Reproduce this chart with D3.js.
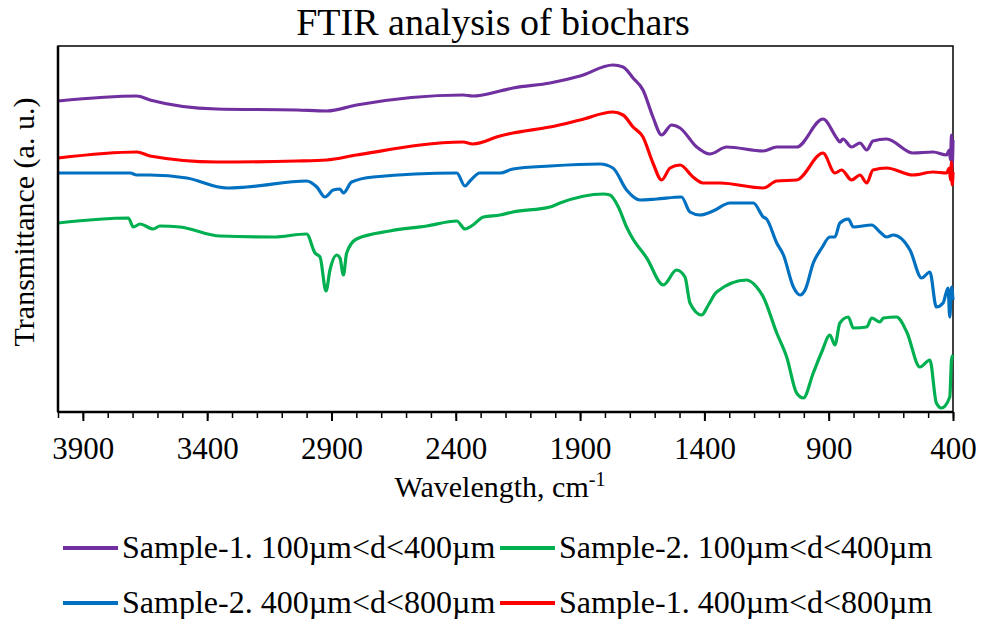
<!DOCTYPE html>
<html>
<head>
<meta charset="utf-8">
<script src="https://cdn.jsdelivr.net/npm/d3@7"></script>
<style>
  body { margin: 0; background: #fff; }
  text { font-family: "Liberation Serif", "Times New Roman", serif; fill: #000; }
</style>
</head>
<body>
<div id="chart"></div>
<script>
// tick labels on the wavenumber axis
var xTickLabels = [3900, 3400, 2900, 2400, 1900, 1400, 900, 400];

// series names (legend order: row by row)
var seriesNames = [
  "Sample-1. 100\u00b5m<d<400\u00b5m",
  "Sample-2. 100\u00b5m<d<400\u00b5m",
  "Sample-2. 400\u00b5m<d<800\u00b5m",
  "Sample-1. 400\u00b5m<d<800\u00b5m"
];
var seriesColors = ["#7030A0", "#00B050", "#0070C0", "#FF0000"];

// [wavenumber cm-1, transmittance a.u.]
var s1Small = [
  [4000,311],[3683,316],[3630,312],[3362,303],[3040,302],[2919,301],[2799,307],[2371,317],
  [2331,316],[2222,321],[2170,324],[2021,329],[1900,336],[1768,347],[1727,345],[1687,334],
  [1647,322],[1607,295],[1572,277],[1532,287],[1498,284],[1431,265],[1378,258],[1310,265],
  [1163,261],[1109,265],[1029,265],[923,293],[868,274],[855,270],[843,273],[808,265],
  [774,269],[747,262],[722,271],[667,273],[561,259],[480,260],[426,257],[415,262],
  [410,252],[406,277],[403,247],[400,272]
];
var s2Small = [
  [4000,189],[3717,194],[3697,185],[3670,188],[3617,183],[3590,186],[3509,185],[3348,176],
  [3134,175],[3000,178],[2966,159],[2946,155],[2922,121],[2906,142],[2879,157],[2866,154],
  [2852,137],[2839,159],[2799,173],[2665,181],[2517,186],[2396,191],[2363,183],[2331,187],
  [2289,195],[2222,197],[2170,200],[2021,205],[1981,209],[1807,218],[1780,217],[1746,205],
  [1713,185],[1692,175],[1632,154],[1565,127],[1512,142],[1478,135],[1458,109],[1411,97],
  [1384,107],[1351,120],[1230,132],[1190,125],[1163,115],[1109,79],[1069,55],[1029,19],
  [1002,14],[962,39],[928,60],[895,77],[875,67],[855,89],[821,95],[801,84],[747,85],
  [727,94],[694,90],[680,94],[627,95],[586,80],[533,45],[493,52],[467,9],[446,4],
  [413,15],[406,52],[400,57]
];
var s2Large = [
  [4000,239],[3710,239],[3683,237],[3630,237],[3482,234],[3321,224],[3241,225],[3000,231],
  [2959,225],[2926,215],[2893,222],[2866,223],[2852,219],[2819,230],[2732,235],[2396,239],
  [2363,226],[2343,231],[2303,239],[2222,239],[2170,243],[2021,246],[1820,248],[1768,244],
  [1713,222],[1659,212],[1592,213],[1492,215],[1458,200],[1418,197],[1365,201],[1297,209],
  [1203,209],[1163,195],[1150,193],[1109,169],[1082,157],[1042,125],[1015,117],[995,122],
  [962,149],[928,164],[895,175],[875,175],[855,189],[821,193],[801,185],[727,187],
  [694,180],[667,175],[640,177],[573,162],[526,134],[493,140],[467,105],[440,109],
  [420,124],[413,95],[406,125],[400,112]
];
var s1Large = [
  [4000,254],[3683,260],[3630,256],[3362,250],[3040,251],[2919,252],[2799,257],[2371,270],
  [2331,268],[2222,276],[2170,279],[2021,285],[1900,292],[1768,300],[1727,297],[1687,285],
  [1647,275],[1607,249],[1572,232],[1538,244],[1498,247],[1446,235],[1406,229],[1337,229],
  [1163,224],[1109,231],[1029,232],[923,259],[875,239],[848,242],[808,232],[774,237],
  [747,229],[722,242],[667,244],[561,237],[480,240],[426,239],[415,244],[410,232],
  [406,250],[403,227],[400,240]
];
var seriesData = [s1Small, s2Small, s2Large, s1Large];

var width = 982, height = 619;
var margin = {top: 46, right: 29, bottom: 207, left: 58};
var innerW = width - margin.left - margin.right;
var innerH = height - margin.top - margin.bottom;

var svg = d3.select("#chart").append("svg")
  .attr("width", width)
  .attr("height", height);

var g = svg.append("g")
  .attr("transform", "translate(" + margin.left + "," + margin.top + ")");

var x = d3.scaleLinear().domain([4000, 400]).range([0, innerW]);
var y = d3.scaleLinear().domain([0, 366]).range([innerH, 0]);

// plot frame
g.append("rect")
  .attr("width", innerW).attr("height", innerH)
  .attr("fill", "none").attr("stroke", "#000").attr("stroke-width", 1.5);

// lines
var line = d3.line()
  .x(d => x(d[0]))
  .y(d => y(d[1]))
  .curve(d3.curveMonotoneX);

g.selectAll(".series")
  .data(seriesData)
  .join("path")
  .attr("class", "series")
  .attr("fill", "none")
  .attr("stroke", (d, i) => seriesColors[i])
  .attr("stroke-width", 3.2)
  .attr("stroke-linejoin", "round")
  .attr("d", line);

// minor ticks every 100
var xMinor = d3.axisBottom(x)
  .tickValues(d3.range(4000, 399, -100))
  .tickSize(6).tickFormat("");
g.append("g")
  .attr("transform", "translate(0," + innerH + ")")
  .call(xMinor)
  .call(a => a.select(".domain").remove())
  .selectAll("line").attr("stroke", "#000").attr("stroke-width", 1.5);

// major ticks with labels
var xAxis = d3.axisBottom(x)
  .tickValues(xTickLabels)
  .tickSize(9).tickPadding(16)
  .tickFormat(d3.format("d"));
var xg = g.append("g")
  .attr("transform", "translate(0," + innerH + ")")
  .call(xAxis);
xg.select(".domain").remove();
xg.selectAll("line").attr("stroke", "#000").attr("stroke-width", 2);
xg.selectAll("text").attr("font-size", 31)
  .style("font-family", "'Liberation Serif', serif");

// axis lines
g.append("line").attr("x1", 0).attr("x2", innerW).attr("y1", innerH).attr("y2", innerH)
  .attr("stroke", "#000").attr("stroke-width", 2.5);
g.append("line").attr("x1", 0).attr("x2", 0).attr("y1", 0).attr("y2", innerH)
  .attr("stroke", "#000").attr("stroke-width", 2.5);

// title
svg.append("text")
  .attr("x", 493).attr("y", 35)
  .attr("text-anchor", "middle")
  .attr("font-size", 38)
  .text("FTIR analysis of biochars");

// x axis title
var xt = svg.append("text")
  .attr("x", 500).attr("y", 497)
  .attr("text-anchor", "middle")
  .attr("font-size", 30);
xt.append("tspan").text("Wavelength, cm");
xt.append("tspan").attr("dy", -11).attr("font-size", 20).text("-1");

// y axis title
svg.append("text")
  .attr("transform", "translate(34,222) rotate(-90)")
  .attr("text-anchor", "middle")
  .attr("font-size", 30)
  .text("Transmittance (a. u.)");

// legend
var legPos = [[63, 548], [500, 548], [63, 603], [500, 603]];
var leg = svg.selectAll(".leg")
  .data(seriesNames)
  .join("g")
  .attr("class", "leg")
  .attr("transform", (d, i) => "translate(" + legPos[i][0] + "," + legPos[i][1] + ")");
leg.append("line")
  .attr("x1", 0).attr("x2", 55)
  .attr("stroke", (d, i) => seriesColors[i])
  .attr("stroke-width", 4);
leg.append("text")
  .attr("x", 59).attr("y", 10)
  .attr("font-size", 32)
  .text(d => d);
</script>
</body>
</html>
